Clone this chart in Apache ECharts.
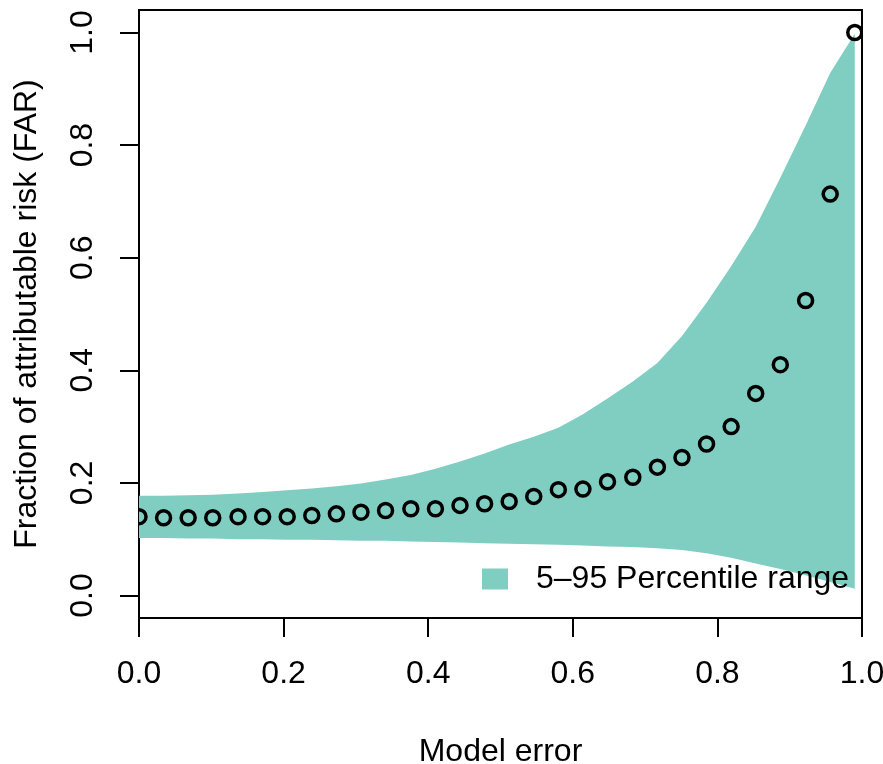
<!DOCTYPE html>
<html>
<head>
<meta charset="utf-8">
<script src="https://cdn.jsdelivr.net/npm/echarts@6/dist/echarts.min.js"></script>
<style>
  html, body { margin: 0; padding: 0; background: #fff; }
  #chart { width: 883px; height: 764px; }
</style>
</head>
<body>
<div id="chart"></div>
<script>
// model error grid
var modelError = [0, 0.034, 0.068, 0.102, 0.137, 0.171, 0.205, 0.239, 0.273, 0.307,
  0.341, 0.376, 0.410, 0.444, 0.478, 0.512, 0.546, 0.580, 0.614, 0.648,
  0.683, 0.717, 0.751, 0.785, 0.819, 0.853, 0.887, 0.922, 0.956, 0.990]
// FAR points (open circles)
var farValues = [0.140, 0.138, 0.138, 0.138, 0.140, 0.140, 0.140, 0.142, 0.145, 0.148,
  0.151, 0.154, 0.154, 0.160, 0.163, 0.167, 0.176, 0.188, 0.189, 0.202,
  0.210, 0.228, 0.245, 0.269, 0.300, 0.359, 0.410, 0.524, 0.713, 1.000]
// 5th and 95th percentile
var lowerP5 = [0.102, 0.102, 0.101, 0.101, 0.100, 0.100, 0.099, 0.099, 0.098, 0.097,
  0.097, 0.096, 0.095, 0.094, 0.093, 0.092, 0.091, 0.090, 0.089, 0.087,
  0.086, 0.084, 0.081, 0.075, 0.067, 0.057, 0.047, 0.036, 0.024, 0.012]
var upperP95 = [0.177, 0.177, 0.178, 0.179, 0.181, 0.184, 0.187, 0.190, 0.194, 0.199,
  0.206, 0.214, 0.225, 0.238, 0.252, 0.268, 0.282, 0.298, 0.322, 0.350,
  0.380, 0.413, 0.461, 0.520, 0.585, 0.655, 0.742, 0.835, 0.928, 0.998]
var tickValues = [0, 0.2, 0.4, 0.6, 0.8, 1.0]

var bandColor = '#80CDC1'
var font = 'Liberation Sans, Arial, Helvetica, sans-serif'

var pointData = []
modelError.forEach(function (x, i) {
  pointData.push([x, farValues[i]])
})

// polygon: upper edge left->right, lower edge right->left
function renderBand (params, api) {
  if (params.dataIndex !== 0) return
  var pts = []
  for (var i = 0; i < modelError.length; i++) {
    pts.push(api.coord([modelError[i], upperP95[i]]))
  }
  for (var j = modelError.length - 1; j >= 0; j--) {
    pts.push(api.coord([modelError[j], lowerP5[j]]))
  }
  return {
    type: 'polygon',
    shape: { points: pts },
    style: { fill: bandColor, stroke: null }
  }
}

// open circle like R pch=1, clipped to plot area
function renderPoint (params, api) {
  var c = api.coord([api.value(0), api.value(1)])
  return {
    type: 'circle',
    shape: { cx: c[0], cy: c[1], r: 7 },
    style: { fill: null, stroke: '#000', lineWidth: 3.5 }
  }
}

var myChart = echarts.init(document.getElementById('chart'), null, { renderer: 'canvas' })
myChart.setOption({
  animation: false,
  textStyle: { fontFamily: font, color: '#000' },
  grid: {
    left: 139, right: 21, top: 10, bottom: 146,
    containLabel: false, outerBoundsMode: 'none',
    show: true, borderColor: '#000', borderWidth: 2, backgroundColor: 'transparent'
  },
  legend: {
    left: 482, top: 563,
    padding: 0,
    itemWidth: 26, itemHeight: 21,
    textStyle: { fontSize: 32, fontFamily: font, color: '#000', padding: [0, 0, 0, 23] },
    data: [{ name: '5–95 Percentile range', icon: 'rect', itemStyle: { color: bandColor, opacity: 1 } }]
  },
  xAxis: {
    type: 'value', min: 0, max: 1, interval: 0.2,
    name: 'Model error', nameLocation: 'middle', nameGap: 118,
    nameTextStyle: { fontSize: 32, fontFamily: font, color: '#000' },
    axisLine: { show: true, onZero: false, lineStyle: { color: '#000', width: 2 } },
    axisTick: { show: true, inside: false, length: 19, lineStyle: { color: '#000', width: 2 } },
    axisLabel: {
      margin: 40, fontSize: 32, color: '#000', fontFamily: font,
      formatter: function (v) { return v.toFixed(1) }
    },
    splitLine: { show: false }
  },
  yAxis: {
    type: 'value', min: -0.04, max: 1.04,
    name: 'Fraction of attributable risk (FAR)', nameLocation: 'middle', nameGap: 96,
    nameTextStyle: { fontSize: 32, fontFamily: font, color: '#000' },
    axisLine: { show: true, onZero: false, lineStyle: { color: '#000', width: 2 } },
    axisTick: { show: true, inside: false, length: 19, customValues: tickValues, lineStyle: { color: '#000', width: 2 } },
    axisLabel: {
      margin: 40, fontSize: 32, color: '#000', fontFamily: font, rotate: 90,
      customValues: tickValues,
      formatter: function (v) { return v.toFixed(1) }
    },
    splitLine: { show: false }
  },
  series: [
    {
      name: '5–95 Percentile range', type: 'custom', renderItem: renderBand,
      data: [[modelError[0], lowerP5[0]]], color: bandColor, silent: true,
      clip: true, z: 1
    },
    {
      name: 'FAR', type: 'custom', renderItem: renderPoint, data: pointData,
      clip: true, silent: true, z: 5
    }
  ]
})
</script>
</body>
</html>
